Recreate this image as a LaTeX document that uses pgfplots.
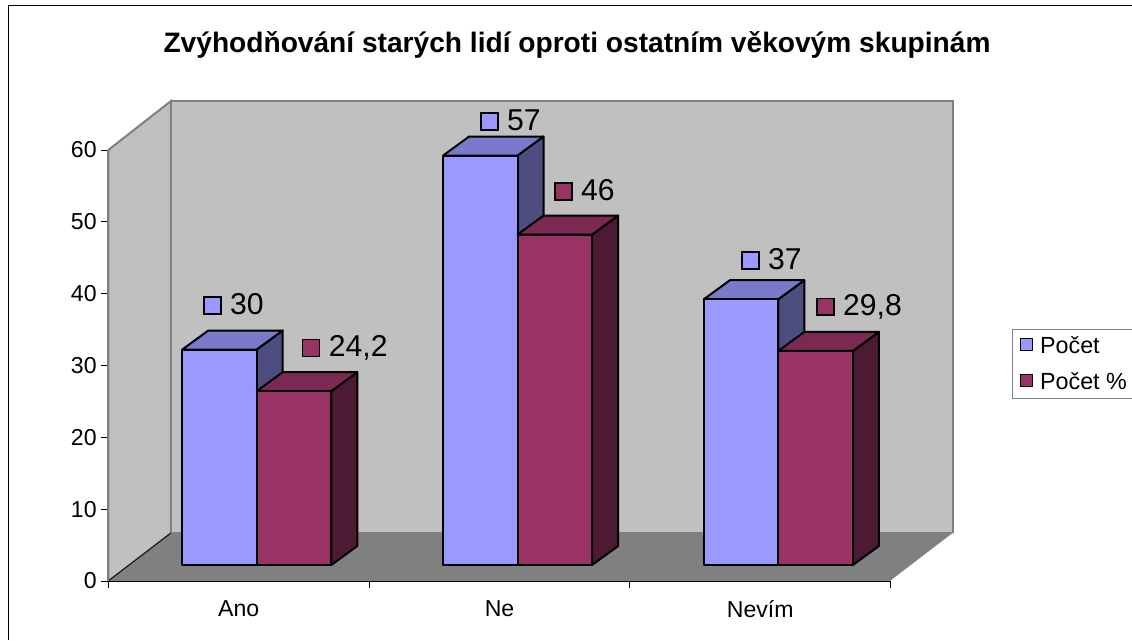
\documentclass[border=0pt]{standalone}
\usepackage{fontspec}
\setmainfont{Liberation Sans}
\usepackage{pgfplots}
\pgfplotsset{compat=1.18}
\definecolor{cA}{HTML}{9999FF}
\definecolor{cAtop}{HTML}{7A7ACC}
\definecolor{cAside}{HTML}{4D4D80}
\definecolor{cB}{HTML}{993366}
\definecolor{cBtop}{HTML}{7A2952}
\definecolor{cBside}{HTML}{4D1A33}
\definecolor{wall}{HTML}{C0C0C0}
\definecolor{edge}{HTML}{808080}
\newcommand{\keysq}[1]{\raisebox{0.8pt}{\setlength{\fboxsep}{0pt}\setlength{\fboxrule}{1.1pt}\fcolorbox{black}{#1}{\rule{0pt}{11.5pt}\rule{11.5pt}{0pt}}}\hspace{6.5pt}}
\newcommand{\dlab}[4]{\node[anchor=west,inner sep=0pt,font=\fontsize{22.6}{24}\selectfont] at (axis cs:#1,#2) {\keysq{#3}#4};}
\begin{document}
\begin{tikzpicture}
\path[use as bounding box,fill=white] (0,0) rectangle (849pt,480pt);
\draw[black,line width=0.9pt] (6.2pt,0) -- (6.2pt,475.9pt) -- (849pt,475.9pt);
\begin{axis}[
  at={(81.225pt,44.25pt)},anchor=south west,
  scale only axis,width=586.8pt,height=323.25pt,
  xmin=0,xmax=3,ymin=0,ymax=60,
  clip=false,axis on top,
  axis x line*=bottom,axis y line*=left,
  x axis line style={black,line width=0.7pt},
  y axis line style={edge,line width=1.3pt},
  xtick={0,1,2,3},x tick label as interval,
  xticklabels={Ano,Ne,Nevím},
  ytick={0,10,20,30,40,50,60},
  tick align=outside,major tick length=5.25pt,
  tick style={black,line width=0.7pt},
  tick label style={font=\fontsize{17.3}{20}\selectfont},
  /pgf/number format/assume math mode=true,
  xticklabel style={yshift=-6pt},
  yticklabel style={xshift=0pt},
  title={\textbf{Zvýhodňování starých lidí oproti ostatním věkovým skupinám}},
  title style={at={(0.5991,1.2251)},anchor=center,font=\fontsize{21.1}{24}\selectfont},
  legend style={at={(1.1547,0.5847)},anchor=north west,draw=edge,line width=0.9pt,
    font=\fontsize{17.5}{20}\selectfont,row sep=9pt,inner xsep=5.5pt,inner ysep=3pt},
  legend cell align=left,
]
% walls and floor
\addplot[forget plot,fill=wall,draw=edge,line width=1.5pt] coordinates {(0,0)(0.2404,6.68)(0.2404,66.82)(0,60)} --cycle;
\addplot[forget plot,fill=wall,draw=edge,line width=1.5pt] coordinates {(0.2404,6.68)(3.2404,6.68)(3.2404,66.82)(0.2404,66.82)} --cycle;
\addplot[forget plot,fill=edge,draw=none] coordinates {(0,0)(0.2404,6.68)(3.2404,6.68)(3,0)} --cycle;
\addplot[forget plot,draw=black,line width=0.6pt] coordinates {(0,0)(0.2404,6.68)};
\addplot[forget plot,draw=white,line width=0.6pt] coordinates {(3,0)(3.2404,6.68)};
% Počet
\addplot[forget plot,fill=cAside,draw=black,line width=1.5pt,line join=round,yshift=12pt] coordinates {(0.5690,0)(0.6687,2.645)(0.6687,32.645)(0.5690,30)} --cycle;
\addplot[forget plot,fill=cAtop,draw=black,line width=1.5pt,line join=round,yshift=12pt] coordinates {(0.2837,30)(0.5690,30)(0.6687,32.645)(0.3834,32.645)} --cycle;
\addplot[forget plot,fill=cAside,draw=black,line width=1.5pt,line join=round,yshift=12pt] coordinates {(1.5690,0)(1.6687,2.645)(1.6687,59.645)(1.5690,57)} --cycle;
\addplot[forget plot,fill=cAtop,draw=black,line width=1.5pt,line join=round,yshift=12pt] coordinates {(1.2837,57)(1.5690,57)(1.6687,59.645)(1.3834,59.645)} --cycle;
\addplot[forget plot,fill=cAside,draw=black,line width=1.5pt,line join=round,yshift=12pt] coordinates {(2.5690,0)(2.6687,2.645)(2.6687,39.645)(2.5690,37)} --cycle;
\addplot[forget plot,fill=cAtop,draw=black,line width=1.5pt,line join=round,yshift=12pt] coordinates {(2.2837,37)(2.5690,37)(2.6687,39.645)(2.3834,39.645)} --cycle;
\addplot[ybar,bar width=55.8pt,bar shift=-14.4pt,fill=cA,draw=black,line width=1.5pt,line join=round,yshift=12pt,
  legend image code/.code={\draw[fill=cA,draw=black,line width=1.1pt] (0pt,-15.5pt) rectangle (9pt,-6.5pt); \path (12pt,-11pt);}]
  coordinates {(0.5,30)(1.5,57)(2.5,37)};
\addlegendentry{Počet}
% Počet %
\addplot[forget plot,fill=cBside,draw=black,line width=1.5pt,line join=round,yshift=12pt] coordinates {(0.8551,0)(0.9548,2.645)(0.9548,26.845)(0.8551,24.2)} --cycle;
\addplot[forget plot,fill=cBtop,draw=black,line width=1.5pt,line join=round,yshift=12pt] coordinates {(0.5690,24.2)(0.8551,24.2)(0.9548,26.845)(0.6687,26.845)} --cycle;
\addplot[forget plot,fill=cBside,draw=black,line width=1.5pt,line join=round,yshift=12pt] coordinates {(1.8551,0)(1.9548,2.645)(1.9548,48.645)(1.8551,46)} --cycle;
\addplot[forget plot,fill=cBtop,draw=black,line width=1.5pt,line join=round,yshift=12pt] coordinates {(1.5690,46)(1.8551,46)(1.9548,48.645)(1.6687,48.645)} --cycle;
\addplot[forget plot,fill=cBside,draw=black,line width=1.5pt,line join=round,yshift=12pt] coordinates {(2.8551,0)(2.9548,2.645)(2.9548,32.445)(2.8551,29.8)} --cycle;
\addplot[forget plot,fill=cBtop,draw=black,line width=1.5pt,line join=round,yshift=12pt] coordinates {(2.5690,29.8)(2.8551,29.8)(2.9548,32.445)(2.6687,32.445)} --cycle;
\addplot[ybar,bar width=55.8pt,bar shift=41.5pt,fill=cB,draw=black,line width=1.5pt,line join=round,yshift=12pt,
  legend image code/.code={\draw[fill=cB,draw=black,line width=1.1pt] (0pt,-15.5pt) rectangle (9pt,-6.5pt); \path (12pt,-11pt);}]
  coordinates {(0.5,24.2)(1.5,46)(2.5,29.8)};
\addlegendentry{Počet \%}
% data labels
\dlab{0.3631}{38.56}{cA}{30}
\dlab{0.7416}{32.44}{cB}{24,2}
\dlab{1.4252}{64.18}{cA}{57}
\dlab{1.7089}{54.43}{cB}{46}
\dlab{2.4260}{44.83}{cA}{37}
\dlab{2.7135}{38.15}{cB}{29,8}
\end{axis}
\end{tikzpicture}
\end{document}
